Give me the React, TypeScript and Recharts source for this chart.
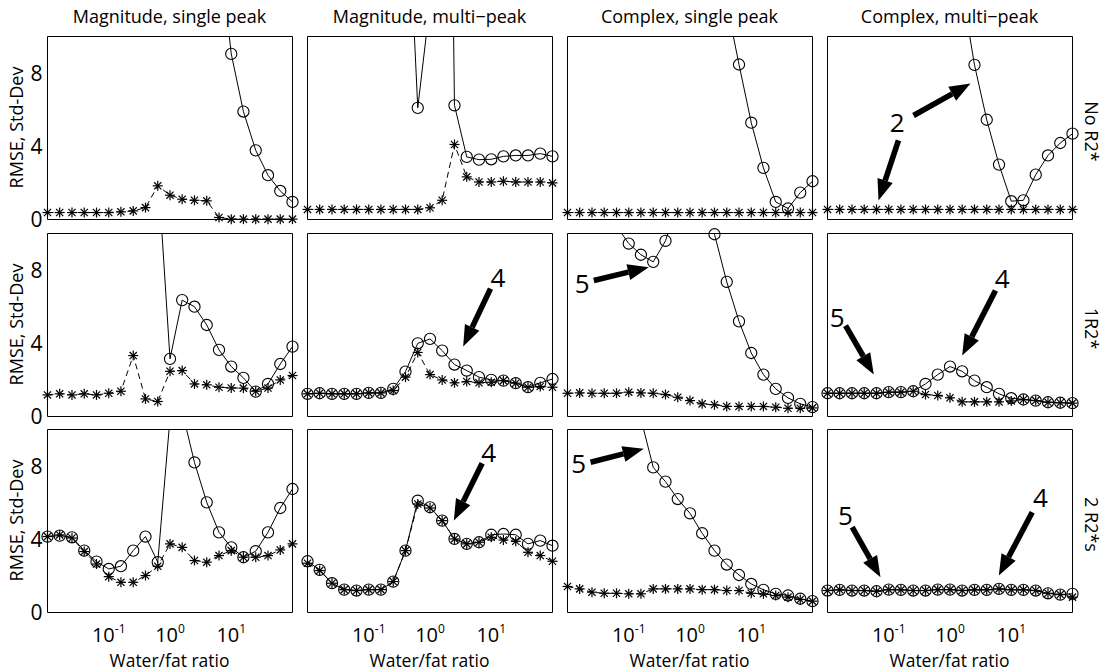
import React from 'react';
import { LineChart, Line, XAxis, YAxis, ReferenceLine, ReferenceDot } from 'recharts';

// ---------------- data ----------------
const waterFatRatio = [0.01, 0.0158, 0.0251, 0.0398, 0.0631, 0.1, 0.158, 0.251, 0.398, 0.631, 1, 1.58, 2.51, 3.98, 6.31, 10, 15.8, 25.1, 39.8, 63.1, 100];
const xTicks = [0.1, 1, 10];
const yTicks = [0, 4, 8];
const columnTitles = ['Magnitude, single peak', 'Magnitude, multi\u2212peak', 'Complex, single peak', 'Complex, multi\u2212peak'];
const rowLabels = ['No R2*', '1R2*', '2 R2*s'];
const yAxisTitle = 'RMSE, Std-Dev';
const xAxisTitle = 'Water/fat ratio';

// circles = RMSE (solid line), stars = Std-Dev (dashed line)
const magSingleNoR2Rmse = [null, null, null, null, null, null, null, null, null, null, null, null, null, null, 15, 9.05, 5.9, 3.78, 2.42, 1.56, 0.96];
const magSingleNoR2Sd = [0.38, 0.38, 0.38, 0.38, 0.38, 0.38, 0.42, 0.47, 0.65, 1.84, 1.33, 1.11, 1.05, 1.02, 0.11, 0.02, 0.02, 0.02, 0.02, 0.02, 0.02];
const magMultiNoR2Rmse = [null, null, null, null, null, null, null, null, 20.5, 6.1, 11.8, 60, 6.24, 3.42, 3.27, 3.29, 3.45, 3.5, 3.5, 3.6, 3.45];
const magMultiNoR2Sd = [0.55, 0.55, 0.55, 0.55, 0.55, 0.55, 0.55, 0.55, 0.55, 0.55, 0.64, 1.05, 4.1, 2.33, 2.05, 2.05, 2.09, 2.05, 2.05, 2.05, 2.0];
const cplxSingleNoR2Rmse = [null, null, null, null, null, null, null, null, null, null, null, null, null, 11.8, 8.47, 5.29, 2.82, 0.96, 0.6, 1.47, 2.09];
const cplxSingleNoR2Sd = [0.38, 0.38, 0.38, 0.38, 0.38, 0.38, 0.38, 0.38, 0.38, 0.38, 0.38, 0.38, 0.38, 0.38, 0.38, 0.38, 0.38, 0.38, 0.38, 0.38, 0.38];
const cplxMultiNoR2Rmse = [null, null, null, null, null, null, null, null, null, null, null, 12.5, 8.45, 5.45, 3.0, 1.0, 1.05, 2.45, 3.5, 4.18, 4.69];
const cplxMultiNoR2Sd = [0.55, 0.55, 0.55, 0.55, 0.55, 0.55, 0.55, 0.55, 0.55, 0.55, 0.55, 0.55, 0.55, 0.55, 0.55, 0.55, 0.55, 0.55, 0.55, 0.55, 0.55];

const magSingle1R2Rmse = [null, null, null, null, null, null, null, null, null, 13.6, 3.15, 6.36, 6.0, 5.0, 3.64, 2.73, 2.11, 1.36, 1.78, 2.87, 3.82];
const magSingle1R2Sd = [1.18, 1.24, 1.18, 1.24, 1.18, 1.27, 1.38, 3.33, 0.96, 0.82, 2.47, 2.51, 1.78, 1.73, 1.6, 1.56, 1.55, 1.38, 1.56, 2.0, 2.24];
const magMulti1R2Rmse = [1.24, 1.27, 1.24, 1.24, 1.24, 1.29, 1.29, 1.51, 2.45, 4.0, 4.24, 3.6, 2.84, 2.51, 2.15, 2.0, 1.96, 1.82, 1.6, 1.84, 2.05];
const magMulti1R2Sd = [1.24, 1.27, 1.24, 1.24, 1.24, 1.29, 1.29, 1.42, 2.15, 3.5, 2.29, 2.0, 1.84, 1.91, 1.84, 1.87, 1.96, 1.82, 1.6, 1.64, 1.6];
const cplxSingle1R2Rmse = [null, null, null, null, 10.4, 9.45, 8.84, 8.45, 9.6, 11.7, null, 12, 9.96, 7.36, 5.2, 3.47, 2.29, 1.51, 1.02, 0.69, 0.51];
const cplxSingle1R2Sd = [1.27, 1.29, 1.27, 1.27, 1.27, 1.33, 1.29, 1.27, 1.2, 1.05, 0.87, 0.69, 0.64, 0.55, 0.55, 0.55, 0.55, 0.51, 0.45, 0.45, 0.47];
const cplxMulti1R2Rmse = [1.27, 1.27, 1.27, 1.27, 1.27, 1.33, 1.33, 1.38, 1.78, 2.29, 2.73, 2.47, 1.96, 1.6, 1.24, 1.0, 0.93, 0.87, 0.78, 0.75, 0.73];
const cplxMulti1R2Sd = [1.27, 1.27, 1.27, 1.27, 1.27, 1.33, 1.33, 1.38, 1.2, 1.15, 1.02, 0.8, 0.8, 0.8, 0.8, 0.85, 0.93, 0.87, 0.78, 0.75, 0.73];

const magSingle2R2Rmse = [4.15, 4.2, 4.11, 3.38, 2.78, 2.38, 2.53, 3.38, 4.15, 2.75, 10.6, 11.0, 8.2, 6.02, 4.38, 3.56, 3.02, 3.35, 4.38, 5.71, 6.75];
const magSingle2R2Sd = [4.15, 4.24, 4.07, 3.33, 2.65, 1.96, 1.65, 1.65, 2.02, 2.53, 3.75, 3.56, 2.84, 2.75, 3.11, 3.38, 3.02, 3.02, 3.11, 3.42, 3.75];
const magMulti2R2Rmse = [2.8, 2.33, 1.6, 1.25, 1.2, 1.25, 1.25, 1.69, 3.38, 6.11, 5.75, 5.02, 4.02, 3.75, 3.84, 4.25, 4.29, 4.25, 3.75, 3.93, 3.65];
const magMulti2R2Sd = [2.69, 2.29, 1.6, 1.25, 1.2, 1.25, 1.25, 1.69, 3.38, 5.93, 5.71, 5.02, 4.02, 3.75, 3.84, 4.11, 3.96, 3.89, 3.29, 3.11, 2.8];
const cplxSingle2R2Rmse = [null, null, null, null, null, null, 10.6, 7.93, 7.15, 6.2, 5.42, 4.33, 3.38, 2.62, 2.05, 1.56, 1.24, 1.02, 0.93, 0.75, 0.62];
const cplxSingle2R2Sd = [1.42, 1.29, 1.11, 1.05, 1.05, 1.02, 1.02, 1.29, 1.29, 1.29, 1.29, 1.25, 1.25, 1.2, 1.2, 1.05, 1.02, 0.93, 0.84, 0.71, 0.62];
const cplxMulti2R2Rmse = [1.2, 1.24, 1.2, 1.2, 1.16, 1.25, 1.24, 1.2, 1.2, 1.25, 1.25, 1.2, 1.24, 1.24, 1.29, 1.24, 1.24, 1.2, 1.05, 0.98, 1.02];
const cplxMulti2R2Sd = [1.2, 1.24, 1.2, 1.2, 1.16, 1.25, 1.24, 1.2, 1.2, 1.25, 1.25, 1.2, 1.24, 1.24, 1.29, 1.24, 1.24, 1.2, 1.05, 0.98, 0.84];

const panelSeries = [
  [[magSingleNoR2Rmse, magSingleNoR2Sd], [magMultiNoR2Rmse, magMultiNoR2Sd], [cplxSingleNoR2Rmse, cplxSingleNoR2Sd], [cplxMultiNoR2Rmse, cplxMultiNoR2Sd]],
  [[magSingle1R2Rmse, magSingle1R2Sd], [magMulti1R2Rmse, magMulti1R2Sd], [cplxSingle1R2Rmse, cplxSingle1R2Sd], [cplxMulti1R2Rmse, cplxMulti1R2Sd]],
  [[magSingle2R2Rmse, magSingle2R2Sd], [magMulti2R2Rmse, magMulti2R2Sd], [cplxSingle2R2Rmse, cplxSingle2R2Sd], [cplxMulti2R2Rmse, cplxMulti2R2Sd]],
];

// annotation arrows and numbers, in data coordinates (ratio, value)
const annotationArrows = [
  { row: 0, col: 3, from: [0.254, 5.68], to: [2.16, 7.43] },
  { row: 0, col: 3, from: [0.144, 4.32], to: [0.068, 1.04] },
  { row: 1, col: 1, from: [9.72, 6.99], to: [3.48, 3.83] },
  { row: 1, col: 2, from: [0.0269, 7.43], to: [0.212, 8.16] },
  { row: 1, col: 3, from: [0.0197, 4.97], to: [0.057, 2.3] },
  { row: 1, col: 3, from: [5.53, 6.89], to: [1.58, 3.33] },
  { row: 2, col: 1, from: [7.11, 8.16], to: [2.45, 5.03] },
  { row: 2, col: 2, from: [0.0238, 8.21], to: [0.176, 8.95] },
  { row: 2, col: 3, from: [0.0253, 4.66], to: [0.0733, 1.93] },
  { row: 2, col: 3, from: [22.0, 5.48], to: [6.26, 2.02] },
];
const annotationLabels = [
  { row: 0, col: 3, at: [0.137, 5.32], text: '2' },
  { row: 1, col: 1, at: [12.8, 7.61], text: '4' },
  { row: 1, col: 2, at: [0.0174, 7.25], text: '5' },
  { row: 1, col: 3, at: [0.0144, 5.43], text: '5' },
  { row: 1, col: 3, at: [7.11, 7.52], text: '4' },
  { row: 2, col: 1, at: [9.12, 8.76], text: '4' },
  { row: 2, col: 2, at: [0.0153, 8.16], text: '5' },
  { row: 2, col: 3, at: [0.0197, 5.3], text: '5' },
  { row: 2, col: 3, at: [30.1, 6.3], text: '4' },
];

// ---------------- layout ----------------
const FONT = '"Open Sans", "DejaVu Sans", sans-serif';
const PLOT_W = 245;
const PLOT_H = 183;
const COL_LEFT = [47, 307, 567, 827];
const ROW_TOP = [36, 233, 429];
const PAD_L = 60;
const PAD_T = 15;
const PAD_R = 15;
const PAD_B = 55;

const renderCircle = (p: any) => {
  const { cx, cy, value } = p;
  if (cx == null || cy == null || value == null || (Array.isArray(value) && value[1] == null)) return null;
  return <circle key={p.key} cx={cx} cy={cy} r={5.6} fill="none" stroke="#000" strokeWidth={1.1} />;
};

const renderStar = (p: any) => {
  const { cx, cy, value } = p;
  if (cx == null || cy == null || value == null) return null;
  const a = 5;
  const d = 3.6;
  return (
    <g key={p.key} stroke="#000" strokeWidth={1.2} strokeDasharray="none">
      <line x1={cx - a} y1={cy} x2={cx + a} y2={cy} />
      <line x1={cx} y1={cy - a} x2={cx} y2={cy + a} />
      <line x1={cx - d} y1={cy - d} x2={cx + d} y2={cy + d} />
      <line x1={cx - d} y1={cy + d} x2={cx + d} y2={cy - d} />
    </g>
  );
};

const renderArrow = (p: any) => {
  const { x1, y1, x2, y2 } = p;
  if ([x1, y1, x2, y2].some((v) => v == null || isNaN(v))) return null;
  const dx = x2 - x1;
  const dy = y2 - y1;
  const len = Math.hypot(dx, dy);
  const ux = dx / len;
  const uy = dy / len;
  const nx = -uy;
  const ny = ux;
  const hl = 21;
  const hw = 8;
  const sw = 2.8;
  const bx = x2 - ux * hl;
  const by = y2 - uy * hl;
  return (
    <g>
      <polygon
        points={`${x1 + nx * sw},${y1 + ny * sw} ${bx + nx * sw},${by + ny * sw} ${bx - nx * sw},${by - ny * sw} ${x1 - nx * sw},${y1 - ny * sw}`}
        fill="#000"
      />
      <polygon points={`${x2},${y2} ${bx + nx * hw},${by + ny * hw} ${bx - nx * hw},${by - ny * hw}`} fill="#000" />
    </g>
  );
};

const renderLogTick = (p: any) => {
  const { x, y, payload } = p;
  const exp = Math.round(Math.log10(payload.value));
  return (
    <text x={x} y={y + 29.5} textAnchor="middle" fontSize={20} fontFamily={FONT} fill="#000">
      10
      <tspan dy={-9.5} fontSize={12}>{String(exp)}</tspan>
    </text>
  );
};

function Panel({ row, col }: { row: number; col: number }) {
  const [fit, sd] = panelSeries[row][col];
  const data = waterFatRatio.map((x, i) => {
    const f = fit[i];
    return { x, fit: f, fitMark: f != null && f <= 10 ? f : null, sd: sd[i] };
  });
  const showY = col === 0;
  const showX = row === 2;
  const W = PAD_L + PLOT_W + PAD_R;
  const H = PAD_T + PLOT_H + PAD_B;
  const arrows = annotationArrows.filter((a) => a.row === row && a.col === col);
  const labels = annotationLabels.filter((a) => a.row === row && a.col === col);
  const axisStroke = { stroke: '#000', strokeWidth: 1 };
  return (
    <div style={{ position: 'absolute', left: COL_LEFT[col] - PAD_L, top: ROW_TOP[row] - PAD_T }}>
      <LineChart
        width={W}
        height={H}
        data={data}
        margin={{ top: PAD_T + 0.5, right: PAD_R - 0.5, left: showY ? 0.5 : PAD_L + 0.5, bottom: showX ? 0 : PAD_B - 0.5 }}
      >
        <XAxis xAxisId="x" dataKey="x" type="number" scale="log" domain={[0.01, 100]} ticks={xTicks} orientation="bottom" mirror height={1} tick={false} tickSize={3} axisLine={axisStroke} tickLine={axisStroke} />
        <XAxis xAxisId="xt" dataKey="x" type="number" scale="log" domain={[0.01, 100]} ticks={xTicks} orientation="top" mirror height={1} tick={false} tickSize={3} axisLine={axisStroke} tickLine={axisStroke} />
        {showX && (
          <XAxis xAxisId="xl" dataKey="x" type="number" scale="log" domain={[0.01, 100]} ticks={xTicks} orientation="bottom" height={PAD_B - 0.5} axisLine={false} tickLine={false} tickSize={0} tickMargin={0} interval={0} tick={renderLogTick} />
        )}
        <YAxis yAxisId="y" type="number" domain={[0, 10]} ticks={yTicks} allowDataOverflow orientation="left" mirror width={1} tick={false} tickSize={3} axisLine={axisStroke} tickLine={axisStroke} />
        <YAxis yAxisId="y2" type="number" domain={[0, 10]} ticks={yTicks} orientation="right" mirror width={1} tick={false} tickSize={3} axisLine={axisStroke} tickLine={axisStroke} />
        {showY && (
          <YAxis yAxisId="yl" type="number" domain={[0, 10]} ticks={yTicks} allowDataOverflow orientation="left" width={PAD_L} axisLine={false} tickLine={false} tickSize={0} tickMargin={5} interval={0} tick={{ fontSize: 21, fill: '#000', fontFamily: FONT }} />
        )}
        <Line xAxisId="x" yAxisId="y" dataKey="fit" stroke="#000" strokeWidth={1} dot={false} activeDot={false} isAnimationActive={false} connectNulls={false} />
        <Line xAxisId="x" yAxisId="y2" dataKey="fitMark" stroke="none" dot={renderCircle} activeDot={false} isAnimationActive={false} />
        <Line xAxisId="x" yAxisId="y2" dataKey="sd" stroke="#000" strokeWidth={1} strokeDasharray="6 4" dot={renderStar} activeDot={false} isAnimationActive={false} />
        {arrows.map((a, i) => (
          <ReferenceLine
            key={`a${i}`}
            xAxisId="x"
            yAxisId="y2"
            ifOverflow="visible"
            segment={[{ x: a.from[0], y: a.from[1] }, { x: a.to[0], y: a.to[1] }]}
            shape={renderArrow}
          />
        ))}
        {labels.map((l, i) => (
          <ReferenceDot
            key={`l${i}`}
            xAxisId="x"
            yAxisId="y2"
            x={l.at[0]}
            y={l.at[1]}
            r={0}
            ifOverflow="visible"
            shape={(p: any) => (
              <text x={p.cx} y={p.cy + 9.5} textAnchor="middle" fontSize={26} fontFamily={FONT} fill="#000">
                {l.text}
              </text>
            )}
          />
        ))}
      </LineChart>
    </div>
  );
}

export default function App() {
  const rows = [0, 1, 2];
  const cols = [0, 1, 2, 3];
  return (
    <div style={{ position: 'absolute', left: 0, top: 0, width: 1104, height: 671, overflow: 'hidden', background: '#fff' }}>
      {rows.map((r) => cols.map((c) => <Panel key={`${r}-${c}`} row={r} col={c} />))}
      <svg width={1104} height={671} style={{ position: 'absolute', left: 0, top: 0, pointerEvents: 'none' }}>
        {columnTitles.map((t, c) => (
          <text key={t} x={COL_LEFT[c] + PLOT_W / 2} y={23} textAnchor="middle" fontSize={18} fontFamily={FONT} fill="#000">
            {t}
          </text>
        ))}
        {rowLabels.map((t, r) => {
          const cy = ROW_TOP[r] + PLOT_H / 2 + 4;
          return (
            <text key={t} x={1085} y={cy} transform={`rotate(90, 1085, ${cy})`} textAnchor="middle" fontSize={18} fontFamily={FONT} fill="#000">
              {t}
            </text>
          );
        })}
        {rows.map((r) => {
          const cy = ROW_TOP[r] + PLOT_H / 2;
          return (
            <text key={`yl${r}`} x={23} y={cy} transform={`rotate(-90, 23, ${cy})`} textAnchor="middle" fontSize={18} fontFamily={FONT} fill="#000">
              {yAxisTitle}
            </text>
          );
        })}
        {cols.map((c) => (
          <text key={`xl${c}`} x={COL_LEFT[c] + PLOT_W / 2} y={666.5} textAnchor="middle" fontSize={17.5} fontFamily={FONT} fill="#000">
            {xAxisTitle}
          </text>
        ))}
      </svg>
    </div>
  );
}
